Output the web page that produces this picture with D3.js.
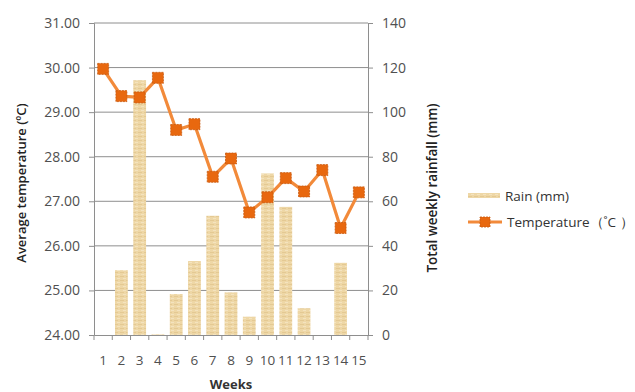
<!DOCTYPE html>
<html><head><meta charset="utf-8">
<script src="https://cdn.jsdelivr.net/npm/d3@7"></script>
<style>body{margin:0;background:#fff}svg{display:block}</style>
</head><body>
<svg id="c" width="635" height="392"></svg>
<script>
const weeks = ["1","2","3","4","5","6","7","8","9","10","11","12","13","14","15"];
const rain = [0, 29.1, 114.3, 0.3, 18.4, 33.2, 53.5, 19.1, 8.2, 72.5, 57.5, 12.0, 0, 32.4, 0];
const temperature = [29.97, 29.36, 29.33, 29.77, 28.60, 28.73, 27.55, 27.96, 26.75, 27.09, 27.52, 27.22, 27.70, 26.40, 27.20];
const tempTicks = [24, 25, 26, 27, 28, 29, 30, 31];
const rainTicks = [0, 20, 40, 60, 80, 100, 120, 140];

const svg = d3.select("#c");
const L = 94, R = 368, T = 23, B = 335;
const font = "'Open Sans', 'DejaVu Sans', sans-serif";
const x = d3.scaleBand().domain(weeks).range([L, R]).paddingInner(0.3).paddingOuter(0.15);
const xb = d3.scaleBand().domain(weeks).range([L, R]);
const yT = d3.scaleLinear().domain([24, 31]).range([B, T]);
const yR = d3.scaleLinear().domain([0, 140]).range([B, T]);

// pattern for bars
const defs = svg.append("defs");
const pat = defs.append("pattern").attr("id", "tex").attr("patternUnits", "userSpaceOnUse")
  .attr("width", 6).attr("height", 4);
pat.append("rect").attr("width", 6).attr("height", 4).attr("fill", "#eed7a6");
pat.append("rect").attr("x", 0).attr("y", 0).attr("width", 4).attr("height", 1).attr("fill", "#e4c993");
pat.append("rect").attr("x", 3).attr("y", 2).attr("width", 3).attr("height", 1).attr("fill", "#f4e3bf");

// gridlines
svg.append("g").selectAll("line").data(tempTicks.slice(1)).join("line")
  .attr("x1", L).attr("x2", R).attr("y1", d => yT(d)).attr("y2", d => yT(d))
  .attr("stroke", "#8e8e8e").attr("stroke-width", 1);

// bars
svg.append("g").selectAll("rect").data(rain).join("rect")
  .attr("x", (d, i) => x(weeks[i])).attr("width", x.bandwidth())
  .attr("y", d => yR(d)).attr("height", d => B - yR(d))
  .attr("fill", "url(#tex)");

// axes
const axL = svg.append("g").attr("transform", `translate(${L},0)`)
  .call(d3.axisLeft(yT).tickValues(tempTicks).tickFormat(d3.format(".2f")).tickSize(5).tickPadding(9));
const axR = svg.append("g").attr("transform", `translate(${R},0)`)
  .call(d3.axisRight(yR).tickValues(rainTicks).tickSize(5).tickPadding(9));
const axB = svg.append("g").attr("transform", `translate(0,${B})`)
  .call(d3.axisBottom(xb).tickSize(0).tickPadding(20));
// x tick marks at band boundaries
svg.append("g").selectAll("line").data(d3.range(weeks.length + 1)).join("line")
  .attr("x1", i => L + i * xb.bandwidth()).attr("x2", i => L + i * xb.bandwidth())
  .attr("y1", B).attr("y2", B + 5).attr("stroke", "#8e8e8e");

[axL, axR, axB].forEach(a => {
  a.select(".domain").attr("stroke", "#8e8e8e");
  a.selectAll(".tick line").attr("stroke", "#8e8e8e");
  a.selectAll("text").attr("font-family", font).attr("font-size", 14).attr("fill", "#505050");
});
axB.selectAll("text").attr("font-size", 13.5);

// line
const line = d3.line().x((d, i) => xb(weeks[i]) + xb.bandwidth() / 2).y(d => yT(d));
svg.append("path").datum(temperature).attr("d", line)
  .attr("fill", "none").attr("stroke", "#f28a3a").attr("stroke-width", 3.2).attr("stroke-linejoin", "round");
svg.append("g").selectAll("rect").data(temperature).join("rect")
  .attr("x", (d, i) => xb(weeks[i]) + xb.bandwidth() / 2 - 5.5)
  .attr("y", d => yT(d) - 5.5).attr("width", 11).attr("height", 11)
  .attr("fill", "#e8680f").attr("stroke", "#c85a10").attr("stroke-width", 0.8).attr("stroke-dasharray", "2,1");

// titles
svg.append("text").attr("transform", "translate(26,183) rotate(-90)")
  .attr("text-anchor", "middle").attr("font-family", font).attr("font-weight", 600)
  .attr("font-size", 13).attr("fill", "#222").text("Average temperature (ºC)");
svg.append("text").attr("transform", "translate(437,188) rotate(-90)")
  .attr("text-anchor", "middle").attr("font-family", font).attr("font-weight", 600)
  .attr("font-size", 13.5).attr("fill", "#222").text("Total weekly rainfall (mm)");
svg.append("text").attr("x", 231).attr("y", 389).attr("text-anchor", "middle")
  .attr("font-family", font).attr("font-weight", 700).attr("font-size", 13).attr("fill", "#333").text("Weeks");

// legend
const lg = svg.append("g");
lg.append("rect").attr("x", 468).attr("y", 193).attr("width", 32).attr("height", 5).attr("fill", "url(#tex)");
lg.append("text").attr("x", 505).attr("y", 201).attr("font-family", font).attr("font-size", 13.5)
  .attr("fill", "#333").text("Rain (mm)");
lg.append("line").attr("x1", 468).attr("x2", 502).attr("y1", 222).attr("y2", 222)
  .attr("stroke", "#f28a3a").attr("stroke-width", 3.2);
lg.append("rect").attr("x", 480).attr("y", 217).attr("width", 10).attr("height", 10)
  .attr("fill", "#e8680f").attr("stroke", "#c85a10").attr("stroke-width", 0.8).attr("stroke-dasharray", "2,1");
lg.append("text").attr("x", 507).attr("y", 227).attr("font-family", font).attr("font-size", 13.5)
  .attr("fill", "#333").text("Temperature（˚C ）");
</script>
</body></html>
